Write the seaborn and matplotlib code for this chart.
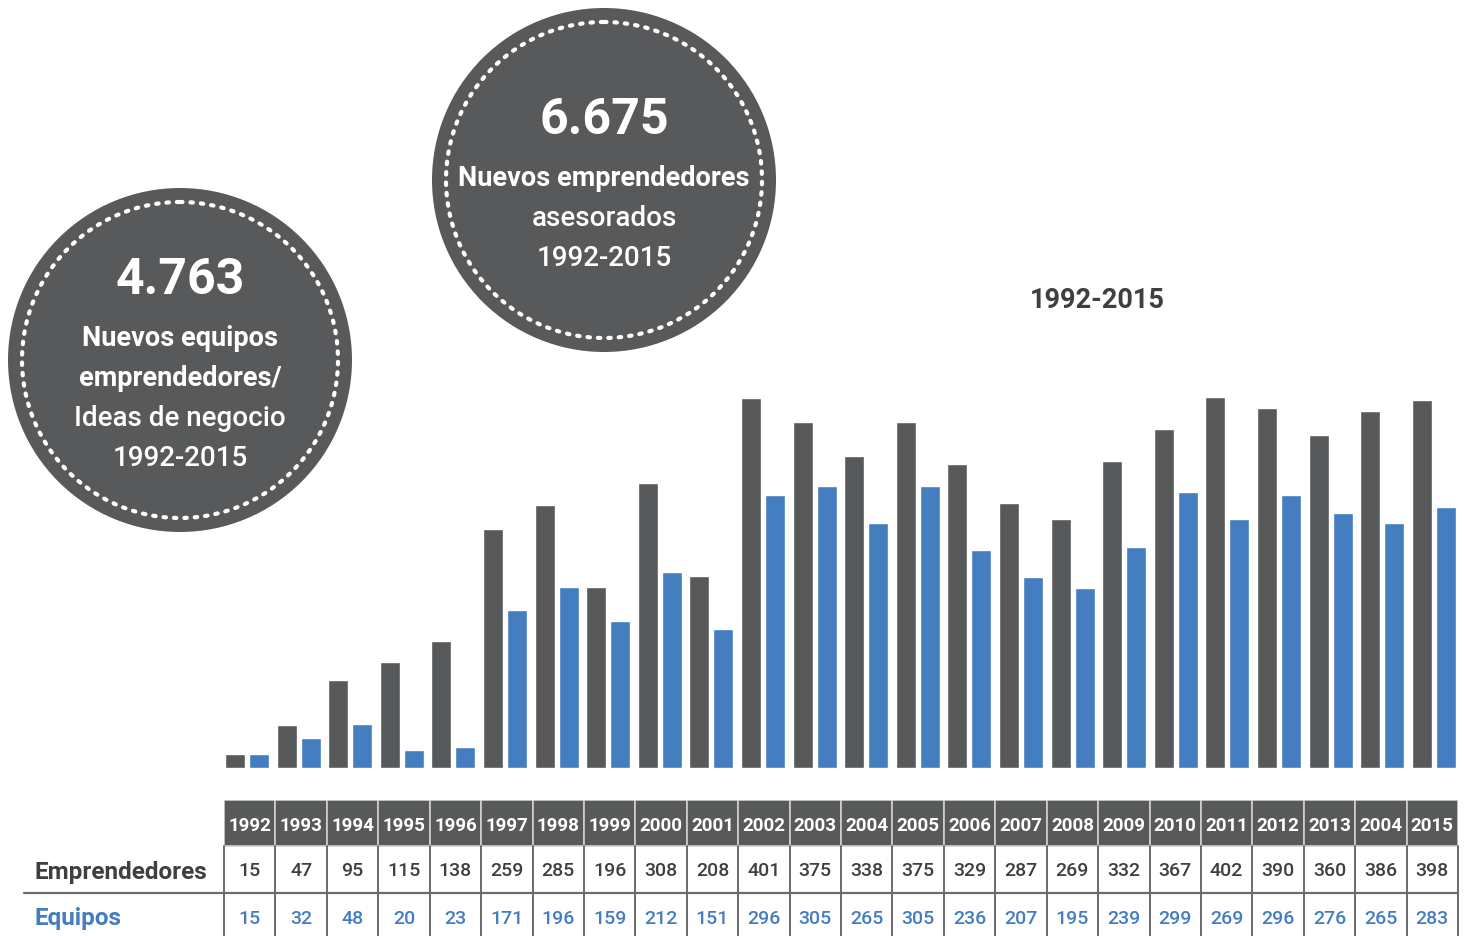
import numpy as np
import pandas as pd
import matplotlib.pyplot as plt
import seaborn as sns
from matplotlib.patches import Circle, Rectangle
from matplotlib.lines import Line2D

# data (the "2004" near the end is printed that way in the source)
years = ['1992', '1993', '1994', '1995', '1996', '1997', '1998', '1999', '2000', '2001',
         '2002', '2003', '2004', '2005', '2006', '2007', '2008', '2009', '2010', '2011',
         '2012', '2013', '2004', '2015']
emprendedores = [15, 47, 95, 115, 138, 259, 285, 196, 308, 208, 401, 375, 338, 375,
                 329, 287, 269, 332, 367, 402, 390, 360, 386, 398]
equipos = [15, 32, 48, 20, 23, 171, 196, 159, 212, 151, 296, 305, 265, 305,
           236, 207, 195, 239, 299, 269, 296, 276, 265, 283]
series_names = ['Emprendedores', 'Equipos']
title = '1992-2015'
bubbles = [
    ('4.763', ['Nuevos equipos', 'emprendedores/'], ['Ideas de negocio', '1992-2015']),
    ('6.675', ['Nuevos emprendedores'], ['asesorados', '1992-2015']),
]

GRAY = '#58595b'
BLUE = '#447dc0'
TEXT = '#3f3f3f'

sns.set_theme(style='white')
plt.rcParams['font.family'] = ['Roboto', 'DejaVu Sans']

W, H = 1465, 936
fig = plt.figure(figsize=(W / 100, H / 100), dpi=100)

# ---- bars ----
df = pd.DataFrame({
    'pos': list(range(len(years))) * 2,
    'serie': [series_names[0]] * len(years) + [series_names[1]] * len(years),
    'valor': emprendedores + equipos,
})
left, right = 224, 1458
base_y, top_y = 768, 380
# the bar groups run on a slightly wider pitch than the table columns
bar_left, bar_width = 221.2, 1238.4
ax = fig.add_axes([bar_left / W, 1 - base_y / H, bar_width / W, (base_y - top_y) / H])
sns.barplot(data=df, x='pos', y='valor', hue='serie', palette=[GRAY, BLUE],
            width=0.93, gap=0.16, legend=False, ax=ax, saturation=1)
ax.set_xlim(-0.5, len(years) - 0.5)
ax.set_ylim(0, 420)
ax.axis('off')

fig.text(1097 / W, 1 - 301 / H, title, ha='center', va='center',
         fontsize=19.5, fontweight='bold', color=TEXT)

# ---- table ----
t_top = 800
tax = fig.add_axes([left / W, 0, (right - left) / W, (H - t_top) / H])
tax.set_xlim(-0.5, len(years) - 0.5)
tax.set_ylim(H - t_top, 0)
tax.axis('off')
hdr_h, row_h = 46, 47
for i, y in enumerate(years):
    tax.add_patch(Rectangle((i - 0.5, 0), 1, hdr_h, facecolor=GRAY, edgecolor='#d0d0d0', lw=1.2))
    tax.text(i, hdr_h / 2 + 3, y, ha='center', va='center', color='white',
             fontsize=13.5, fontweight='bold')
    tax.text(i, hdr_h + row_h / 2 + 2, str(emprendedores[i]), ha='center', va='center',
             color=TEXT, fontsize=14, fontweight='medium')
    tax.text(i, hdr_h + row_h * 1.5 + 3, str(equipos[i]), ha='center', va='center',
             color=BLUE, fontsize=14, fontweight='medium')
for i in range(len(years) + 1):
    tax.plot([i - 0.5, i - 0.5], [hdr_h, H - t_top], color='#6a6a6a', lw=1.4, clip_on=False)

line_y = 1 - (t_top + hdr_h + row_h) / H
fig.add_artist(Line2D([24 / W, right / W], [line_y, line_y], color='#6a6a6a', lw=1.6))
fig.text(35 / W, 1 - 873 / H, series_names[0], ha='left', va='center',
         fontsize=17.5, fontweight='bold', color=TEXT)
fig.text(35 / W, 1 - 919 / H, series_names[1], ha='left', va='center',
         fontsize=17.5, fontweight='bold', color=BLUE)

# ---- circles ----
oax = fig.add_axes([0, 0, 1, 1], zorder=-1)
oax.set_xlim(0, W)
oax.set_ylim(H, 0)
oax.axis('off')
centers = [(180, 360), (604, 180)]
for (cx, cy), (big, bold_lines, reg_lines) in zip(centers, bubbles):
    oax.add_patch(Circle((cx, cy), 172, facecolor=GRAY, edgecolor='none'))
    ring = Circle((cx, cy), 158, fill=False, edgecolor='white', lw=3,
                  linestyle=(0, (0.6, 1.9)))
    ring.set_capstyle('round')
    oax.add_patch(ring)
    yy = cy - 59 - 20 * (len(bold_lines) - 1)
    oax.text(cx, yy, big, ha='center', va='center', color='white',
             fontsize=36, fontweight='bold')
    yy += 58
    for ln in bold_lines:
        oax.text(cx, yy, ln, ha='center', va='center', color='white',
                 fontsize=19.5, fontweight='bold')
        yy += 40
    for ln in reg_lines:
        oax.text(cx, yy, ln, ha='center', va='center', color='white',
                 fontsize=20, fontweight='medium')
        yy += 40

fig.savefig('out.png', dpi=100)
